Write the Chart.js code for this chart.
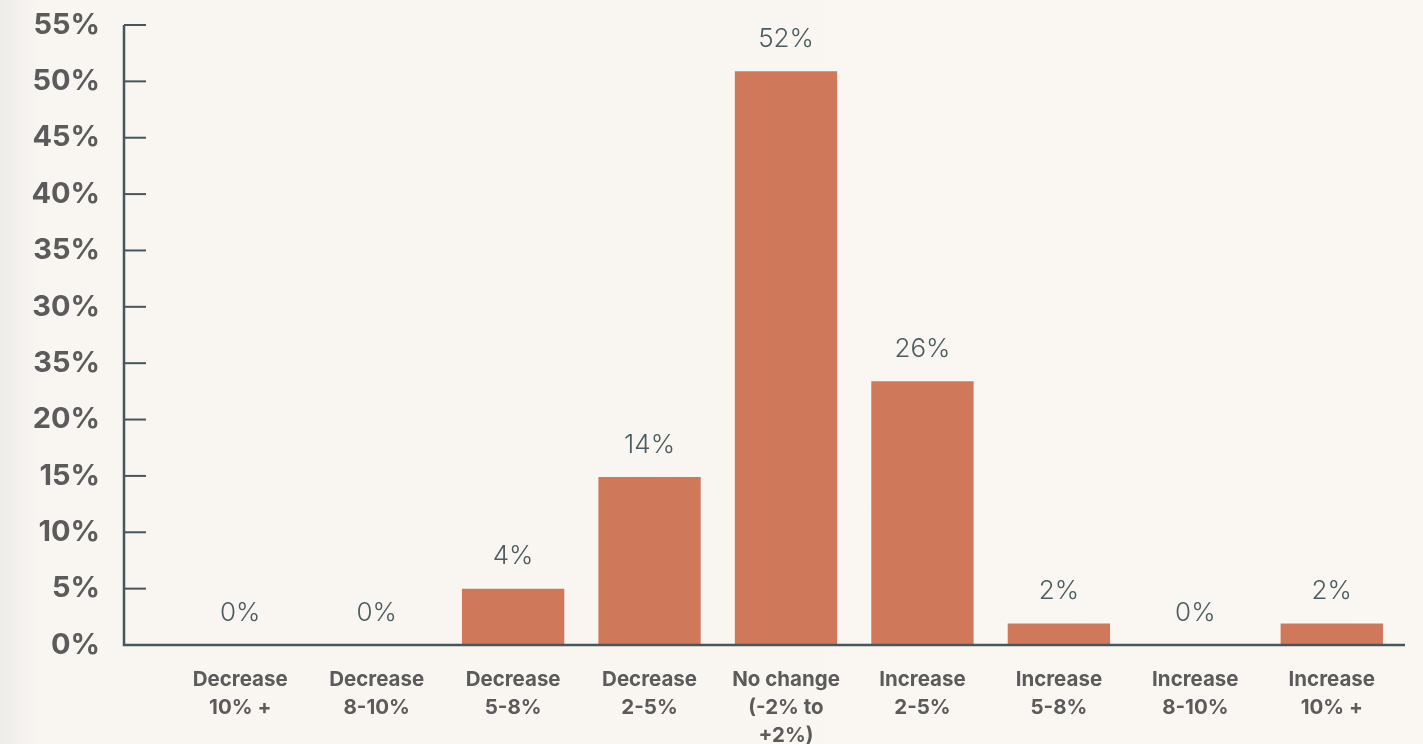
<!DOCTYPE html>
<html>
<head>
<meta charset="utf-8">
<script src="https://cdn.jsdelivr.net/npm/chart.js@4.4.1/dist/chart.umd.min.js"></script>
<style>
  html, body { margin: 0; padding: 0; }
  body {
    width: 1423px; height: 744px; overflow: hidden;
    background: linear-gradient(to right, #eeece9 0px, #f9f6f2 40px, #faf7f3 100%);
  }
  canvas { display: block; }
</style>
</head>
<body>
<canvas id="myChart" width="1423" height="744"></canvas>
<script>
// categories, multi-line labels
const categories = [
  ['Decrease', '10% +'],
  ['Decrease', '8-10%'],
  ['Decrease', '5-8%'],
  ['Decrease', '2-5%'],
  ['No change', '(-2% to', '+2%)'],
  ['Increase', '2-5%'],
  ['Increase', '5-8%'],
  ['Increase', '8-10%'],
  ['Increase', '10% +'],
];

// bar heights as drawn in the picture
const barValues = [0, 0, 5, 14.9, 50.9, 23.4, 1.9, 0, 1.9];

// value labels printed above the bars
const valueLabels = ['0%', '0%', '4%', '14%', '52%', '26%', '2%', '0%', '2%'];

// y tick labels as printed (the 25% tick reads "35%")
const yTickLabels = ['0%', '5%', '10%', '15%', '20%', '35%', '30%', '35%', '40%', '45%', '50%', '55%'];

const axisColor = '#46565a';
const labelColor = '#5b5b5b';
const barColor = '#d0785a';
const axisGap = 48; // y axis line sits left of the first category

// draws the axis lines, the inward tick marks and the value labels
const decorPlugin = {
  id: 'decor',
  afterDraw(chart) {
    const c = chart.ctx;
    const area = chart.chartArea;
    const y = chart.scales.y;
    const x0 = area.left - axisGap;

    c.save();
    c.strokeStyle = axisColor;
    c.lineWidth = 2.5;
    c.beginPath();
    c.moveTo(x0, y.getPixelForValue(55));
    c.lineTo(x0, area.bottom);
    c.lineTo(area.right + 5, area.bottom);
    c.stroke();

    c.lineWidth = 2;
    y.ticks.forEach(t => {
      if (t.value === 0) return;
      const py = y.getPixelForValue(t.value);
      c.beginPath();
      c.moveTo(x0, py);
      c.lineTo(x0 + 22, py);
      c.stroke();
    });

    // value labels
    c.fillStyle = '#4c5b5f';
    c.font = '300 26px Inter, "Open Sans", sans-serif';
    c.textAlign = 'center';
    c.textBaseline = 'middle';
    const meta = chart.getDatasetMeta(0);
    meta.data.forEach((bar, i) => {
      c.fillText(valueLabels[i], bar.x, bar.y - 32);
    });
    c.restore();
  }
};

const ctx = document.getElementById('myChart').getContext('2d');

const chart = new Chart(ctx, {
  type: 'bar',
  data: {
    labels: categories,
    datasets: [{
      data: barValues,
      backgroundColor: barColor,
      borderWidth: 0,
      barPercentage: 0.75,
      categoryPercentage: 1.0,
    }],
  },
  options: {
    responsive: false,
    animation: false,
    devicePixelRatio: 1,
    layout: {
      padding: { top: 25, right: 23, left: 0, bottom: 0 },
    },
    plugins: {
      legend: { display: false },
      tooltip: { enabled: false },
    },
    scales: {
      x: {
        grid: { display: false, drawTicks: false },
        border: { display: false },
        ticks: {
          color: labelColor,
          font: { family: 'Inter, "Open Sans", sans-serif', size: 20.5, weight: '700', lineHeight: 1.36 },
          padding: 21,
          maxRotation: 0,
          autoSkip: false,
        },
        afterFit(scale) {
          scale.height = 99;
          scale.paddingTop = 0;
          scale.paddingBottom = 0;
        },
      },
      y: {
        min: 0,
        max: 55,
        grid: { display: false, drawTicks: false },
        border: { display: false },
        ticks: {
          stepSize: 5,
          color: labelColor,
          font: { family: 'Inter, "Open Sans", sans-serif', size: 29, weight: '700' },
          padding: 72,
          callback: (v) => yTickLabels[Math.round(v / 5)],
        },
        afterFit(scale) {
          scale.width = 172;
          scale.paddingTop = 0;
          scale.paddingBottom = 0;
        },
      },
    },
  },
  plugins: [decorPlugin],
});
</script>
</body>
</html>
